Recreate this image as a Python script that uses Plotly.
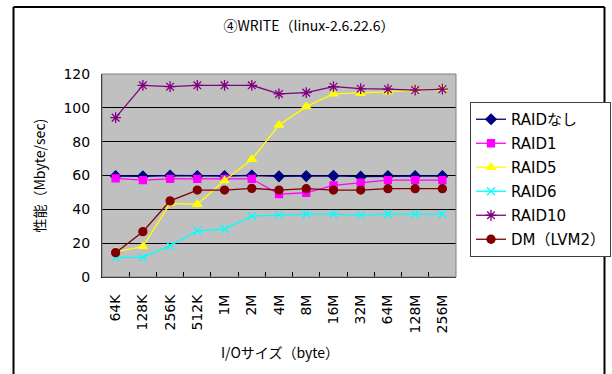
import plotly.graph_objects as go

categories = ["64K", "128K", "256K", "512K", "1M", "2M", "4M", "8M", "16M", "32M", "64M", "128M", "256M"]

raid_none = [59.7, 59.5, 60.0, 59.7, 59.7, 60.0, 59.5, 59.7, 59.8, 59.3, 59.7, 59.7, 59.7]
raid1 = [58.3, 57.3, 58.0, 58.0, 58.0, 58.0, 49.0, 49.8, 54.2, 55.8, 57.3, 57.3, 57.3]
raid5 = [15.0, 18.0, 43.5, 43.0, 57.0, 69.5, 89.8, 100.7, 108.2, 108.6, 109.4, 110.5, 111.3]
raid6 = [11.6, 11.6, 18.5, 27.2, 28.4, 36.0, 36.6, 37.2, 37.2, 36.6, 37.2, 37.2, 37.2]
raid10 = [94.2, 113.3, 112.5, 113.3, 113.3, 113.3, 108.2, 109.0, 112.5, 111.3, 111.0, 110.5, 111.0]
dm_lvm2 = [14.4, 26.8, 45.0, 51.4, 51.4, 52.4, 51.4, 52.2, 51.4, 51.4, 52.2, 52.2, 52.2]

y_ticks = [0, 20, 40, 60, 80, 100, 120]

series = [
    ("RAIDなし", raid_none, "#000080", "diamond", 8),
    ("RAID1", raid1, "#FF00FF", "square", 7),
    ("RAID5", raid5, "#FFFF00", "triangle-up", 8),
    ("RAID6", raid6, "#00FFFF", "x-thin-open", 8),
    ("RAID10", raid10, "#800080", "asterisk-open", 9),
    ("DM（LVM2）", dm_lvm2, "#800000", "circle", 8),
]

LATIN = "DejaVu Sans, Noto Sans CJK JP"
CJK = "Noto Sans CJK JP"

fig = go.Figure()
for i, (name, vals, color, sym, size) in enumerate(series):
    fig.add_trace(go.Scatter(
        x=categories, y=vals, name=name, mode="lines+markers",
        line=dict(color=color, width=1.3),
        marker=dict(symbol=sym, size=size, color=color,
                    line=dict(color=color, width=1.3)),
        legendgroup=f"g{i}",
    ))

W, H = 612, 374
L, R, T, B = 102, 456, 74, 277  # plot area in pixels
pw, ph = R - L, B - T

def px(x):
    return (x - L) / pw

def py(y):
    return (B - y) / ph

# outer frame, in pixel offsets from the plot area's bottom-left corner
fl, fr, ft, fb = 13.5, 604.5, 7, 380
frame_lines = [
    (fl, ft, fr, ft),
    (fl, ft, fl, fb),
    (fr, ft, fr, fb),
]

shapes = [
    dict(type="rect", xref="paper", yref="paper", x0=0, x1=1, y0=0, y1=1,
         line=dict(color="#808080", width=1), layer="above"),
]
for (x0, y0, x1, y1) in frame_lines:
    shapes.append(dict(type="line", xref="paper", yref="paper",
                       xsizemode="pixel", ysizemode="pixel", xanchor=0, yanchor=0,
                       x0=x0 - L, x1=x1 - L, y0=B - y0, y1=B - y1,
                       line=dict(color="black", width=2), layer="above"))

fig.update_layout(
    width=W, height=H,
    margin=dict(l=L, r=W - R, t=T, b=H - B, autoexpand=False),
    paper_bgcolor="white",
    plot_bgcolor="#C0C0C0",
    font=dict(family=LATIN, size=14, color="black"),
    title=dict(text="④WRITE（linux-2.6.22.6）", x=309 / W, xanchor="center",
               y=1 - 26 / H, yanchor="middle",
               font=dict(family=CJK, size=14, color="black")),
    showlegend=True,
    legend=dict(x=px(470), xanchor="left", y=py(102), yanchor="top",
                bordercolor="#404040", borderwidth=1, bgcolor="white",
                tracegroupgap=1.5,
                font=dict(family=LATIN, size=15)),
    xaxis=dict(
        type="category", range=[-0.5, len(categories) - 0.5],
        tickangle=-90, showgrid=False, automargin=False,
        ticks="inside", tickson="boundaries", ticklen=5, tickcolor="black",
        showline=True, linecolor="black", linewidth=1, mirror=False,
        tickfont=dict(size=14), ticklabelstandoff=11,
    ),
    yaxis=dict(
        range=[0, 120], tickvals=y_ticks, showgrid=True, gridcolor="#000000", gridwidth=1,
        showline=True, linecolor="black", linewidth=1, automargin=False,
        ticks="inside", ticklen=5, tickcolor="black",
        tickfont=dict(size=14), ticklabelstandoff=8,
        zeroline=False,
    ),
    annotations=[
        dict(text="I/Oサイズ（byte）", xref="paper", yref="paper",
             x=px(279.5), y=py(352), xanchor="center", yanchor="middle",
             showarrow=False, font=dict(family=CJK, size=14)),
        dict(text="性能（Mbyte/sec)", xref="paper", yref="paper",
             x=px(38), y=py(175.5), xanchor="center", yanchor="middle",
             textangle=-90, showarrow=False, font=dict(family=CJK, size=14)),
    ],
    shapes=shapes,
)

fig.write_html("out.html", config={"displayModeBar": False},
               post_script="document.body.style.margin='0px';document.body.style.overflow='hidden';")
